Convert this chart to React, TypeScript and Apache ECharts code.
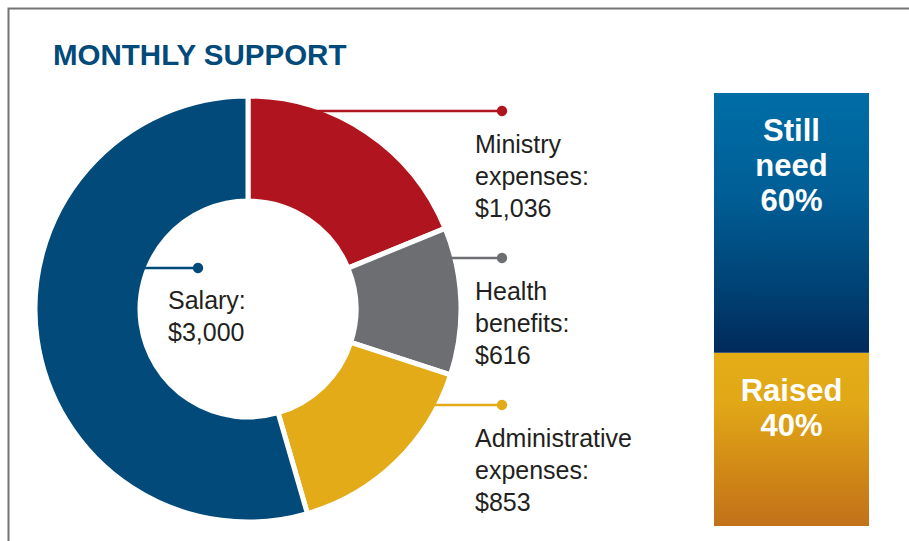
import React, { useEffect, useRef } from "react";
import * as echarts from "echarts";

// ---- data ----
const categories = ["Ministry expenses", "Health benefits", "Administrative expenses", "Salary"];
const labelNames = ["Ministry\nexpenses", "Health\nbenefits", "Administrative\nexpenses", "Salary"];
const values = [1036, 616, 853, 3000];
const fundingNames = ["Raised", "Still need"];
const fundingLabels = ["Raised", "Still\nneed"];
const fundingValues = [40, 60];
const titleText = "MONTHLY SUPPORT";

// ---- styles / layout ----
const sliceColors = ["#b0141e", "#6d6e71", "#e3ab17", "#024a7a"];
const labelPos: number[][] = [
  [475, 128],
  [475, 275],
  [475, 422],
  [168, 284],
];
const leaders: { x1: number; x2: number; y: number; color: string }[] = [
  { x1: 300, x2: 502, y: 111, color: sliceColors[0] },
  { x1: 440, x2: 502, y: 258, color: sliceColors[1] },
  { x1: 425, x2: 502, y: 405, color: sliceColors[2] },
  { x1: 140, x2: 198, y: 268, color: sliceColors[3] },
];

const blueGrad = new echarts.graphic.LinearGradient(0, 0, 0, 1, [
  { offset: 0, color: "#006da6" },
  { offset: 0.4, color: "#005e95" },
  { offset: 0.75, color: "#004275" },
  { offset: 1, color: "#002a5a" },
]);
const goldGrad = new echarts.graphic.LinearGradient(0, 0, 0, 1, [
  { offset: 0, color: "#e4ad17" },
  { offset: 0.3, color: "#e1a717" },
  { offset: 0.7, color: "#d08716" },
  { offset: 1, color: "#c2711a" },
]);
const barColors = [goldGrad, blueGrad];

export default function App() {
  const ref = useRef<HTMLDivElement>(null);
  useEffect(() => {
    if (!ref.current) return;
    const chart = echarts.init(ref.current, null, { renderer: "svg" });
    const graphics: any[] = [
      {
        type: "polyline",
        shape: { points: [[8.5, 541], [8.5, 8.5], [909, 8.5]] },
        style: { stroke: "#747474", lineWidth: 2, fill: null },
        z: 10,
      },
    ];
    leaders.forEach((l) => {
      graphics.push({
        type: "line",
        shape: { x1: l.x1, y1: l.y, x2: l.x2, y2: l.y },
        style: { stroke: l.color, lineWidth: 2.5 },
        z: 10,
      });
      graphics.push({
        type: "circle",
        shape: { cx: l.x2, cy: l.y, r: 5.2 },
        style: { fill: l.color },
        z: 10,
      });
    });

    chart.setOption({
      animation: false,
      title: {
        text: titleText,
        left: 48,
        top: 34,
        textStyle: {
          fontFamily: "Liberation Sans",
          fontWeight: "bold",
          fontSize: 29.5,
          color: "#024a7a",
        },
      },
      grid: { left: 714, top: 93, width: 155, height: 433 },
      xAxis: { type: "category", data: ["Funding"], show: false },
      yAxis: { type: "value", min: 0, max: 100, show: false },
      graphic: graphics,
      series: [
        {
          type: "pie",
          center: [248, 309],
          radius: [108, 213],
          startAngle: 90,
          clockwise: true,
          avoidLabelOverlap: false,
          itemStyle: { borderColor: "#ffffff", borderWidth: 5 },
          label: {
            show: true,
            position: "outside",
            fontFamily: "Liberation Sans",
            fontSize: 25,
            lineHeight: 32,
            color: "#231f20",
            formatter: (p: any) =>
              `${labelNames[p.dataIndex]}:\n$${Number(p.value).toLocaleString("en-US")}`,
          },
          labelLine: { show: false },
          labelLayout: (p: any) => ({
            x: labelPos[p.dataIndex][0],
            y: labelPos[p.dataIndex][1],
            align: "left",
            verticalAlign: "top",
          }),
          emphasis: { disabled: true },
          data: categories.map((name, i) => ({
            name,
            value: values[i],
            itemStyle: { color: sliceColors[i] },
          })),
        },
        ...fundingNames.map((name, i) => ({
          type: "bar",
          name,
          stack: "funding",
          barWidth: 155,
          data: [fundingValues[i]],
          itemStyle: { color: barColors[i] },
          label: {
            show: true,
            position: "insideTop",
            distance: 20,
            fontFamily: "Liberation Sans",
            fontWeight: "bold",
            fontSize: 31,
            lineHeight: 35,
            color: "#ffffff",
            formatter: (p: any) => `${fundingLabels[i]}\n${p.value}%`,
          },
          emphasis: { disabled: true },
        })),
      ],
    });
    return () => chart.dispose();
  }, []);
  return (
    <div
      ref={ref}
      style={{ position: "fixed", left: 0, top: 0, width: 909, height: 541, background: "#fff" }}
    />
  );
}
